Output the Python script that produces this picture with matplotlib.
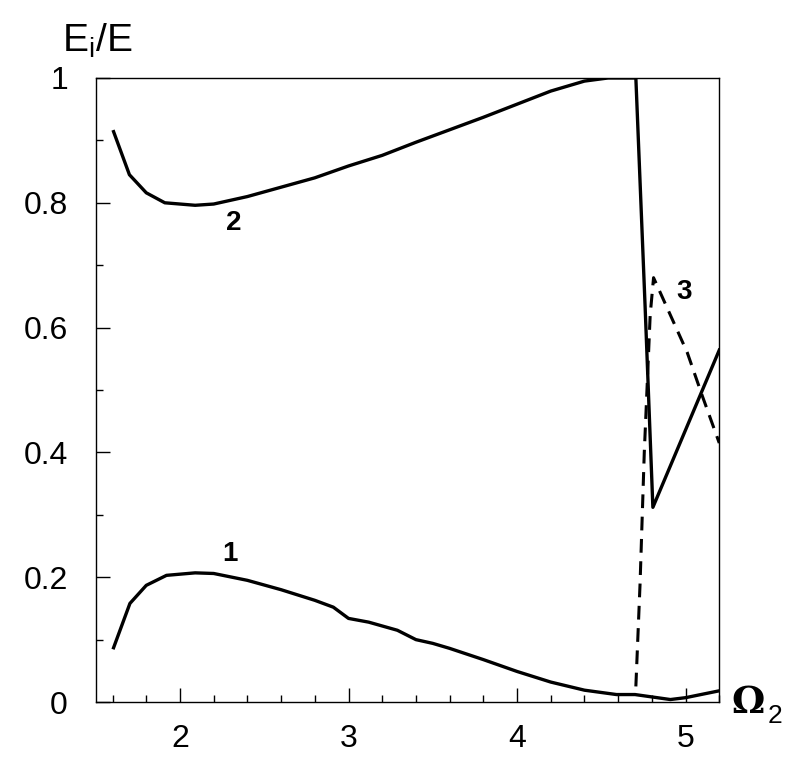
import matplotlib
matplotlib.use("Agg")
import matplotlib.pyplot as plt
from matplotlib.ticker import MultipleLocator, FixedLocator

# curve 1
x1 = [1.606, 1.703, 1.80, 1.92, 2.09, 2.20, 2.40, 2.60, 2.80, 2.91, 3.00, 3.12,
      3.29, 3.40, 3.50, 3.60, 3.80, 4.00, 4.20, 4.40, 4.59, 4.70, 4.91, 5.00, 5.20]
y1 = [0.087, 0.158, 0.187, 0.203, 0.207, 0.206, 0.195, 0.180, 0.163, 0.152, 0.134, 0.128,
      0.115, 0.100, 0.094, 0.086, 0.068, 0.049, 0.032, 0.019, 0.012, 0.012, 0.004, 0.007, 0.018]

# curve 2
x2 = [1.606, 1.70, 1.80, 1.91, 2.09, 2.20, 2.40, 2.60, 2.80, 3.00, 3.20, 3.40,
      3.60, 3.80, 4.00, 4.20, 4.40, 4.54, 4.705, 4.76, 4.806, 5.20]
y2 = [0.914, 0.845, 0.816, 0.800, 0.796, 0.798, 0.810, 0.825, 0.840, 0.859, 0.876, 0.897,
      0.917, 0.937, 0.958, 0.979, 0.995, 1.000, 1.000, 0.633, 0.312, 0.564]

# curve 3 (dashed)
x3 = [4.705, 4.73, 4.755, 4.79, 4.81, 5.01, 5.10, 5.20]
y3 = [0.025, 0.19, 0.40, 0.62, 0.68, 0.56, 0.49, 0.415]

xticks = [2, 3, 4, 5]
yticks = [0, 0.2, 0.4, 0.6, 0.8, 1.0]
ytick_labels = ["0", "0.2", "0.4", "0.6", "0.8", "1"]

tick_font = ["Liberation Sans", "DejaVu Sans"]

fig = plt.figure(figsize=(8.07, 7.63), dpi=100)
ax = fig.add_axes([0.1186, 0.0799, 0.7727, 0.8179])

ax.plot(x1, y1, color="black", lw=2.4)
ax.plot(x2, y2, color="black", lw=2.4)
ax.plot(x3, y3, color="black", lw=2.2, linestyle=(0, (4.5, 2.8)))

ax.set_xlim(1.5, 5.2)
ax.set_ylim(0, 1)

ax.xaxis.set_major_locator(FixedLocator(xticks))
ax.xaxis.set_minor_locator(MultipleLocator(0.2))
ax.yaxis.set_major_locator(FixedLocator(yticks))
ax.yaxis.set_minor_locator(MultipleLocator(0.1))
ax.set_yticklabels(ytick_labels)

ax.tick_params(which="both", direction="in", top=False, right=False, width=1)
ax.tick_params(which="major", length=10)
ax.tick_params(which="minor", length=5)
ax.tick_params(axis="x", which="major", pad=16)
ax.tick_params(axis="y", which="major", pad=20)
for lab in ax.get_xticklabels() + ax.get_yticklabels():
    lab.set_family(tick_font)
    lab.set_fontsize(23)

for s in ax.spines.values():
    s.set_linewidth(1.0)

# curve labels
lab_font = ["Liberation Sans", "DejaVu Sans"]
ax.text(2.32, 0.768, "2", fontsize=20, fontweight="bold", ha="center", va="center", family=lab_font)
ax.text(2.295, 0.237, "1", fontsize=20, fontweight="bold", ha="center", va="center", family=lab_font)
ax.text(4.99, 0.657, "3", fontsize=20, fontweight="bold", ha="center", va="center", family=lab_font)

# axis titles
fig.text(62 / 807, 1 - 41 / 763, r"E$_{\mathregular{i}}$/E", fontsize=28, ha="left", va="center",
         family=tick_font)
fig.text(731 / 807, 1 - 703 / 763, r"$\mathbf{\Omega}$", fontsize=27, ha="left", va="center",
         math_fontfamily="dejavuserif")
fig.text(768 / 807, 1 - 716 / 763, "2", fontsize=19, ha="left", va="center", family=tick_font)

fig.savefig("out.png", dpi=100)
